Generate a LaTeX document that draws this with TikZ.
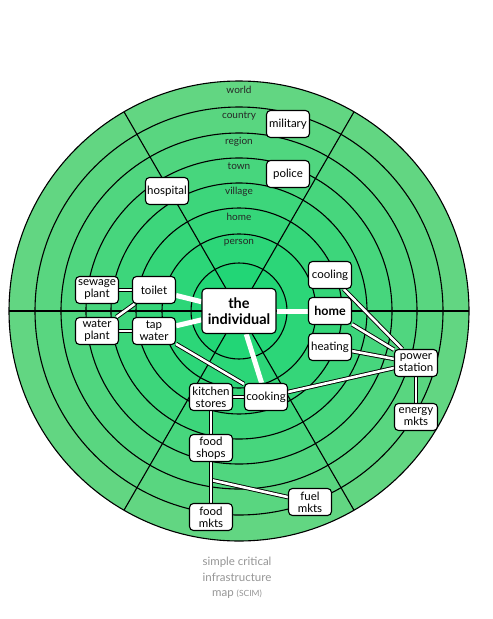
\documentclass[tikz,border=0pt]{standalone}
\usepackage{fontspec}
\setmainfont{Lato}
\usetikzlibrary{backgrounds}
\pgfdeclarelayer{rings}
\pgfsetlayers{rings,background,main}
\definecolor{ringin}{RGB}{34,214,118}
\definecolor{ringout}{RGB}{98,214,130}
\definecolor{capgray}{RGB}{150,150,150}
\tikzset{
  box/.style={draw, line width=1.1pt, rounded corners=4pt, fill=white, minimum width=43pt, minimum height=27pt, inner sep=0.5pt, align=center, font=\fontsize{11.5}{12}\selectfont},
  bigbox/.style={box, minimum width=74pt, minimum height=45pt, font=\fontsize{14.5}{15.5}\selectfont\bfseries},
  link/.style={white, line width=5pt},
  pipe/.style={draw=black, line width=0.9pt, double=white, double distance=2.6pt},
  ringlab/.style={font=\fontsize{10}{11}\selectfont, text=black!85},
}
\begin{document}
\begin{tikzpicture}[x=1pt,y=-1pt]
  \useasboundingbox (0,0) rectangle (493,619);

  % --- Rings and sectors ---
  \begin{pgfonlayer}{rings}
    \fill[white] (0,0) rectangle (493,619);
    \foreach \r [count=\i] in {230,204,178,153,128,103,77,48} {
      \pgfmathtruncatemacro{\p}{(\i-1)*100/7}
      \fill[ringin!\p!ringout] (239,311) circle (\r);
      \draw[line width=1.1pt] (239,311) circle (\r);
    }
    \foreach \a in {0,60,120}
      \draw[line width=1.1pt] (239,311) ++(\a:230) -- ++(\a+180:460);
    \foreach \r/\lab in {230/world,204/country,178/region,153/town,128/village,103/home,77/person}
      \node[ringlab] at (239,{319.5-\r}) {\lab};
  \end{pgfonlayer}

  % --- Nodes ---
  \node[box] (military) at (288,124) {military};
  \node[box] (police) at (288,174) {police};
  \node[box] (hospital) at (167,191) {hospital};
  \node[bigbox] (indiv) at (239,311) {the\\individual};
  \node[box] (cooling) at (330,275) {cooling};
  \node[box, font=\fontsize{12.5}{13}\selectfont\bfseries] (home) at (330,311) {home};
  \node[box] (heating) at (330,347) {heating};
  \node[box] (power) at (416,363) {power\\station};
  \node[box] (energy) at (416,417) {energy\\mkts};
  \node[box] (toilet) at (154,290) {toilet};
  \node[box] (sewage) at (97,290) {sewage\\plant};
  \node[box] (wplant) at (97,331) {water\\plant};
  \node[box] (tap) at (154,331) {tap\\water};
  \node[box] (kitchen) at (211,397) {kitchen\\stores};
  \node[box] (cooking) at (266,397) {cooking};
  \node[box] (shops) at (211,448) {food\\shops};
  \node[box] (fmkts) at (211,517) {food\\mkts};
  \node[box] (fuel) at (310,502) {fuel\\mkts};
  \coordinate (fork) at (211,480);

  % --- Links ---
  \begin{scope}[on background layer]
    \draw[link] (indiv) -- (toilet);
    \draw[link] (indiv) -- (tap);
    \draw[link] (indiv) -- (home);
    \draw[link] (indiv) -- (cooking);

    \draw[pipe] (sewage) -- (toilet);
    \draw[pipe] (toilet) -- (wplant);
    \draw[pipe] (wplant) -- (tap);
    \draw[pipe] (tap) -- (cooking);
    \draw[pipe] (kitchen) -- (cooking);
    \draw[pipe] (fork) -- (fuel);
    \draw[pipe] (kitchen) -- (shops);
    \draw[pipe] (shops) -- (fmkts);
    \draw[pipe] (cooling) -- (power);
    \draw[pipe] (home) -- (power);
    \draw[pipe] (heating) -- (power);
    \draw[pipe] (cooking) -- (power);
    \draw[pipe] (power) -- (energy);
  \end{scope}

  % caption
  \node[align=center, text=capgray, font=\fontsize{11.5}{15.5}\selectfont] (caption) at (237,578)
    {simple critical\\infrastructure\\map {\fontsize{8.5}{9}\selectfont(SCIM)}};
\end{tikzpicture}
\end{document}
